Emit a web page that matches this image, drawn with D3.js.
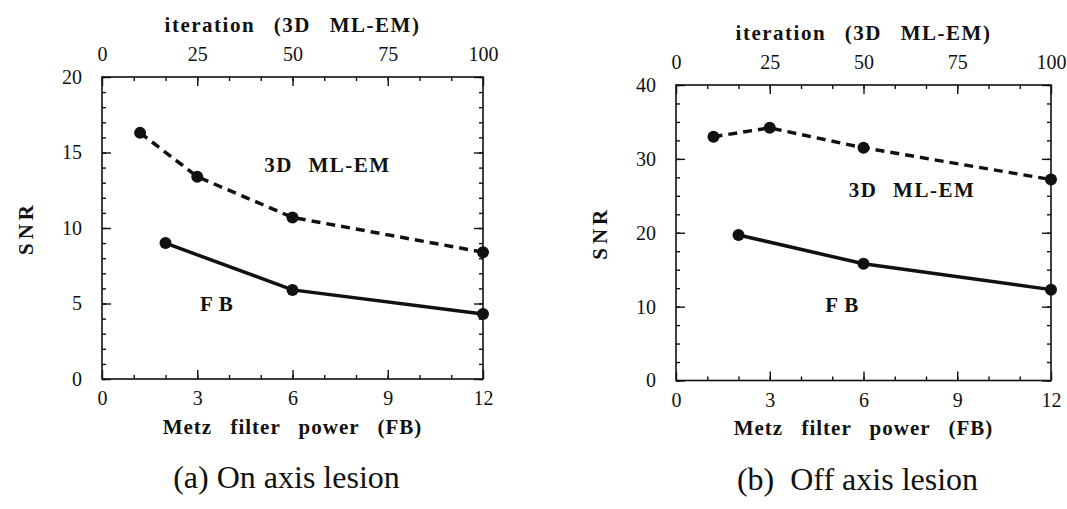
<!DOCTYPE html>
<html>
<head>
<meta charset="utf-8">
<script src="https://cdn.jsdelivr.net/npm/d3@7"></script>
<style>
  body { margin: 0; background: #fff; }
  svg { display: block; }
  text { font-family: "Liberation Serif", "DejaVu Serif", serif; fill: #111; }
</style>
</head>
<body>
<svg id="chart" width="1067" height="509"></svg>
<script>
// values
var metzPower = [2, 6, 12];
var iterations = [10, 25, 50, 100];
var fbOn = [9.0, 5.9, 4.3];
var mlemOn = [16.3, 13.4, 10.7, 8.4];
var fbOff = [19.7, 15.8, 12.3];
var mlemOff = [33.0, 34.2, 31.5, 27.2];

var metzTicks = [0, 3, 6, 9, 12];
var iterTicks = [0, 25, 50, 75, 100];
var snrTicksOn = [0, 5, 10, 15, 20];
var snrTicksOff = [0, 10, 20, 30, 40];

var captions = ["(a) On axis lesion", "(b)  Off axis lesion"];

var serif = '"Liberation Serif", "DejaVu Serif", serif';
var svg = d3.select("#chart");

function drawPanel(p) {
	var g = svg.append("g").attr("transform", "translate(" + p.left + "," + p.top + ")");
	var w = p.width, h = p.height;

	var x = d3.scaleLinear().domain([0, 12]).range([0, w]);
	var xTop = d3.scaleLinear().domain([0, 100]).range([0, w]);
	var y = d3.scaleLinear().domain([0, p.ymax]).range([h, 0]);

	var minorX = d3.range(1, 12);
	var minorTop = d3.range(1, 12).map(function(i) { return i * 100 / 12; });
	var minorY = d3.range(0, p.ymax + 0.001, p.yminor);

	// minor ticks, pointing inward
	g.append("g").attr("transform", "translate(0," + h + ")")
		.call(d3.axisBottom(x).tickValues(minorX).tickSize(-4).tickFormat(""));
	g.append("g")
		.call(d3.axisTop(xTop).tickValues(minorTop).tickSize(-4).tickFormat(""));
	g.append("g")
		.call(d3.axisLeft(y).tickValues(minorY).tickSize(-4).tickFormat(""));
	g.append("g").attr("transform", "translate(" + w + ",0)")
		.call(d3.axisRight(y).tickValues(minorY).tickSize(-4).tickFormat(""));

	// major ticks + labels
	g.append("g").attr("transform", "translate(0," + h + ")")
		.call(d3.axisBottom(x).tickValues(metzTicks).tickSize(-9).tickPadding(12));
	g.append("g")
		.call(d3.axisTop(xTop).tickValues(iterTicks).tickSize(-9).tickPadding(16));
	g.append("g")
		.call(d3.axisLeft(y).tickValues(p.yticks).tickSize(-9).tickPadding(20));
	g.append("g").attr("transform", "translate(" + w + ",0)")
		.call(d3.axisRight(y).tickValues(p.yticks).tickSize(-9).tickFormat(""));

	g.selectAll(".domain").remove();
	g.selectAll(".tick line").attr("stroke", "#111").attr("stroke-width", 1.4);
	g.selectAll(".tick text")
		.attr("font-family", serif).style("font-family", serif)
		.style("font-size", "20px").attr("fill", "#111");

	// frame
	g.append("rect").attr("width", w).attr("height", h)
		.attr("fill", "none").attr("stroke", "#111").attr("stroke-width", 1.6);

	// axis titles
	g.append("text").attr("x", w / 2).attr("y", -50)
		.attr("text-anchor", "middle").attr("dominant-baseline", "middle")
		.style("font-size", "21px").style("font-weight", "bold")
		.style("letter-spacing", "1.5px").style("word-spacing", "12px")
		.text("iteration (3D ML-EM)");
	g.append("text").attr("x", w / 2).attr("y", h + 50)
		.attr("text-anchor", "middle").attr("dominant-baseline", "middle")
		.style("font-size", "21px").style("font-weight", "bold")
		.style("letter-spacing", "1px").style("word-spacing", "12px")
		.text("Metz filter power (FB)");
	g.append("text")
		.attr("transform", "translate(" + (-p.snrOffset) + "," + (h / 2) + ") rotate(-90)")
		.attr("text-anchor", "middle").attr("dominant-baseline", "middle")
		.style("font-size", "21px").style("font-weight", "bold")
		.style("letter-spacing", "4px")
		.text("SNR");

	// series
	var fbLine = d3.line().x(function(d, i) { return x(metzPower[i]); }).y(function(d) { return y(d); });
	var emLine = d3.line().x(function(d, i) { return xTop(iterations[i]); }).y(function(d) { return y(d); });

	g.append("path").datum(p.em).attr("d", emLine)
		.attr("fill", "none").attr("stroke", "#111").attr("stroke-width", 3.5)
		.attr("stroke-dasharray", "9,6");
	g.append("path").datum(p.fb).attr("d", fbLine)
		.attr("fill", "none").attr("stroke", "#111").attr("stroke-width", 3.5);

	g.selectAll(".em-pt").data(p.em).enter().append("circle")
		.attr("cx", function(d, i) { return xTop(iterations[i]); })
		.attr("cy", function(d) { return y(d); })
		.attr("r", 6).attr("fill", "#111");
	g.selectAll(".fb-pt").data(p.fb).enter().append("circle")
		.attr("cx", function(d, i) { return x(metzPower[i]); })
		.attr("cy", function(d) { return y(d); })
		.attr("r", 6).attr("fill", "#111");

	// series labels
	g.append("text").attr("x", x(p.emLabel[0])).attr("y", y(p.emLabel[1]))
		.attr("text-anchor", "middle").attr("dominant-baseline", "middle")
		.style("font-size", "21px").style("font-weight", "bold")
		.style("letter-spacing", "1.5px").style("word-spacing", "9px")
		.text("3D ML-EM");
	g.append("text").attr("x", x(p.fbLabel[0])).attr("y", y(p.fbLabel[1]))
		.attr("text-anchor", "middle").attr("dominant-baseline", "middle")
		.style("font-size", "21px").style("font-weight", "bold")
		.style("letter-spacing", "6px")
		.text("FB");

	// caption
	g.append("text").attr("x", w / 2 - 6).attr("y", h + 102)
		.attr("text-anchor", "middle").attr("dominant-baseline", "middle")
		.style("font-size", "32px").style("white-space", "pre")
		.text(p.caption);
}

drawPanel({
	left: 102, top: 77, width: 381, height: 302,
	ymax: 20, yticks: snrTicksOn, yminor: 1,
	fb: fbOn, em: mlemOn,
	emLabel: [7.1, 14.0], fbLabel: [3.7, 4.8],
	snrOffset: 74, caption: captions[0]
});

drawPanel({
	left: 676, top: 85, width: 375, height: 295.5,
	ymax: 40, yticks: snrTicksOff, yminor: 2.5,
	fb: fbOff, em: mlemOff,
	emLabel: [7.55, 25.5], fbLabel: [5.4, 9.9],
	snrOffset: 74, caption: captions[1]
});
</script>
</body>
</html>
